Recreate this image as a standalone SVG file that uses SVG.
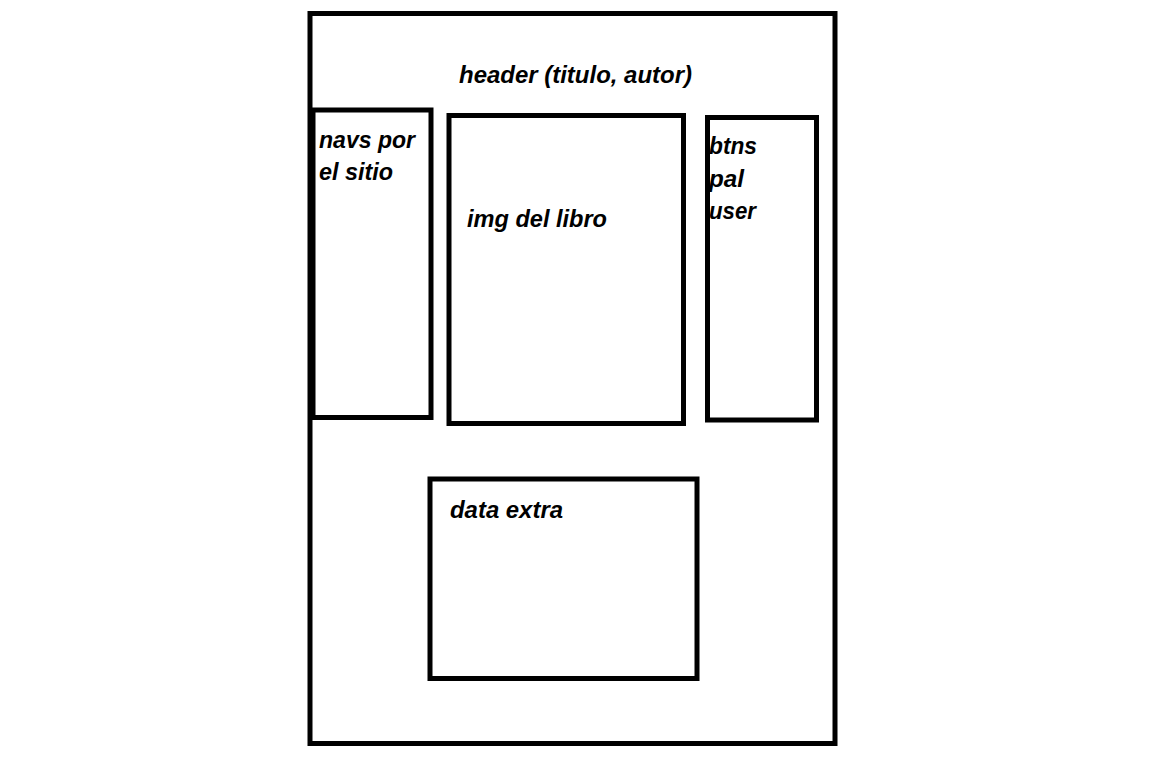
<svg xmlns="http://www.w3.org/2000/svg" width="1168" height="783" viewBox="0 0 1168 783">
<style>
.box{fill:none;stroke:#000;stroke-width:5}
.t{font-family:"Liberation Sans",Arial,sans-serif;font-weight:bold;font-style:italic;font-size:24px;fill:#000}
</style>
<rect x="0" y="0" width="1168" height="783" fill="#fff"/>
<g id="page">
<rect class="box" x="310" y="13.5" width="525" height="730"/>
<text class="t" x="459" y="83" textLength="233" lengthAdjust="spacingAndGlyphs">header (titulo, autor)</text>
</g>
<g id="nav">
<rect class="box" x="313" y="110" width="118" height="307.5"/>
<text class="t" x="319" y="148" textLength="96" lengthAdjust="spacingAndGlyphs">navs por</text>
<text class="t" x="319" y="180" textLength="74" lengthAdjust="spacingAndGlyphs">el sitio</text>
</g>
<g id="img">
<rect class="box" x="449" y="115.5" width="234.5" height="308"/>
<text class="t" x="467" y="227" textLength="140" lengthAdjust="spacingAndGlyphs">img del libro</text>
</g>
<g id="btns">
<rect class="box" x="707.5" y="117.5" width="109" height="302.5"/>
<text class="t" x="709" y="154" textLength="48" lengthAdjust="spacingAndGlyphs">btns</text>
<text class="t" x="709" y="187" textLength="35" lengthAdjust="spacingAndGlyphs">pal</text>
<text class="t" x="709" y="219" textLength="47" lengthAdjust="spacingAndGlyphs">user</text>
</g>
<g id="data">
<rect class="box" x="430" y="479" width="267" height="199.5"/>
<text class="t" x="450" y="518" textLength="113" lengthAdjust="spacingAndGlyphs">data extra</text>
</g>
<g id="connectors"/>
</svg>
